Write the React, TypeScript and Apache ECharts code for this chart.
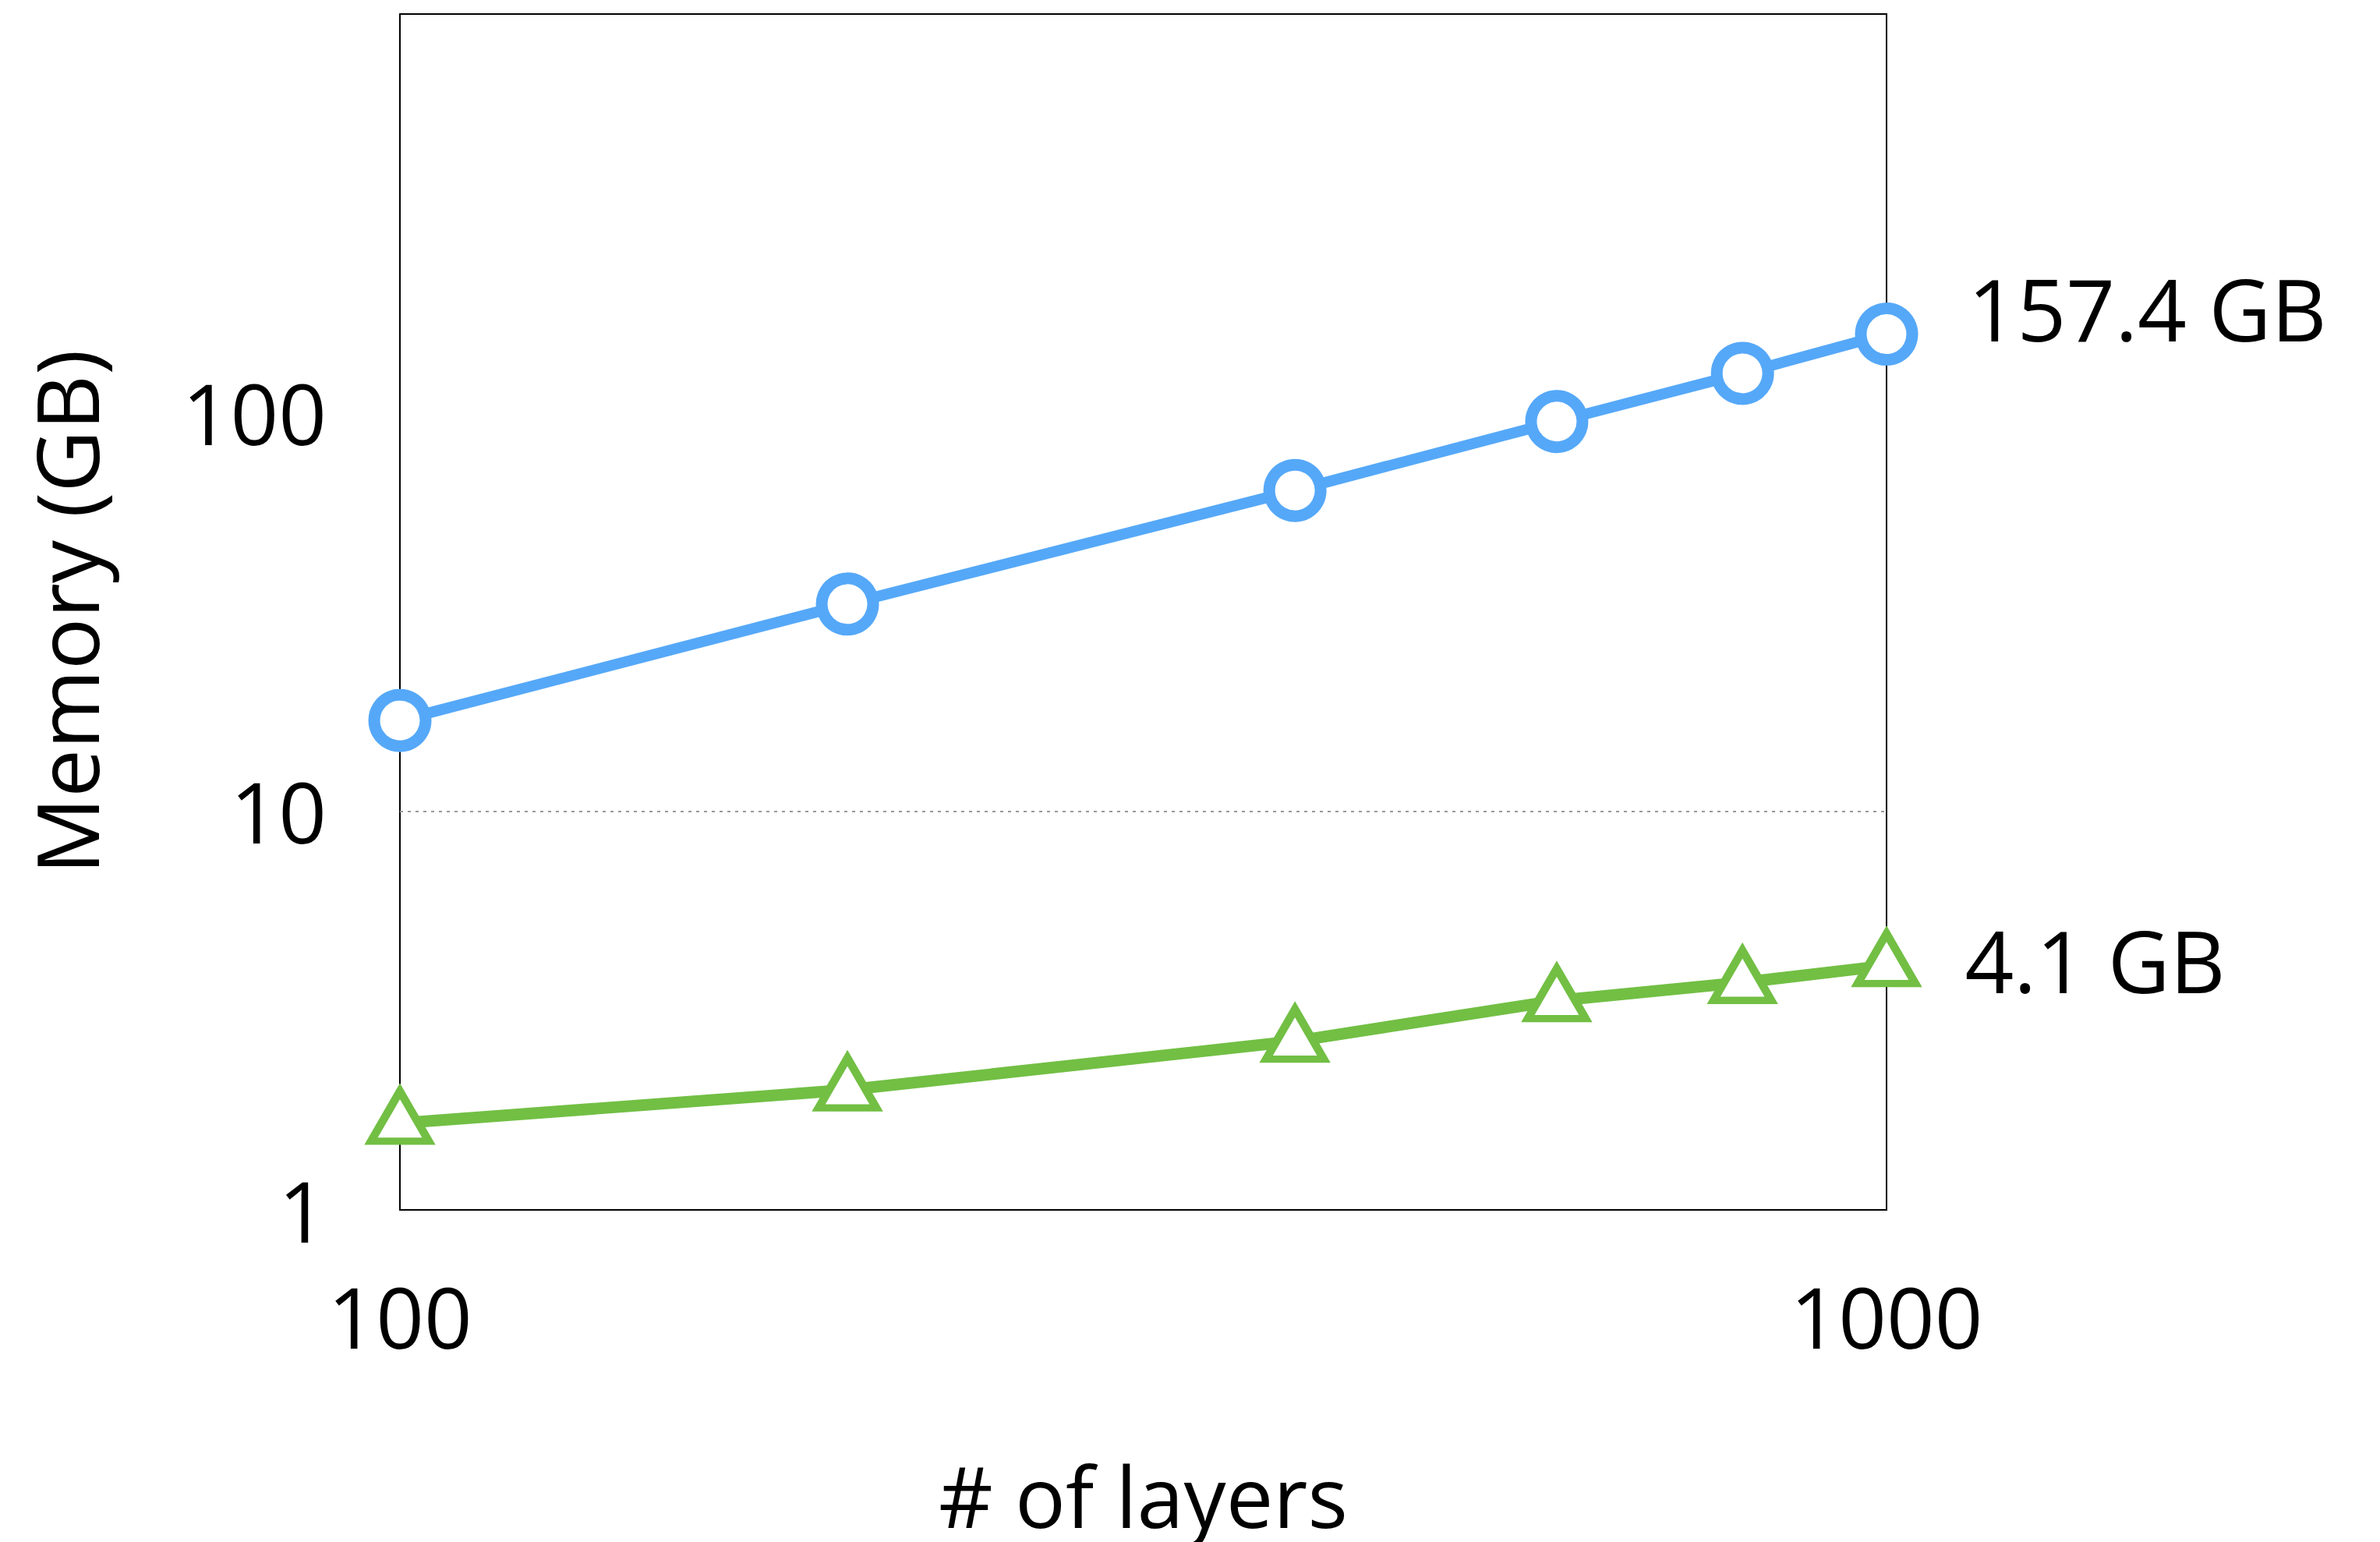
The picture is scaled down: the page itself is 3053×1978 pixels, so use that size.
import React, { useEffect, useRef } from "react";
import * as echarts from "echarts";

const layers = [100, 200, 400, 600, 800, 1000];
const baselineMemory = [16.9, 33.1, 63.8, 95, 125.5, 157.4];
const optimizedMemory = [1.65, 2.0, 2.65, 3.35, 3.72, 4.1];
const yTickLabels = ["1", "10", "100"];
const xTickLabels = ["100", "1000"];
const refLine = 10;

const FONT = "'Open Sans', 'Noto Sans', sans-serif";
const W = 3053;
const H = 1978;

function buildData(values: number[], endOffset: number[], endDist: number) {
  return values.map((v, i) => {
    if (i === values.length - 1) {
      return {
        value: [layers[i], v],
        label: {
          show: true,
          position: "right",
          distance: endDist,
          offset: endOffset,
          formatter: `${v} GB`,
          fontSize: 110,
          fontFamily: FONT,
          color: "#000",
        },
      };
    }
    return { value: [layers[i], v] };
  });
}

export default function App() {
  const ref = useRef<HTMLDivElement>(null);
  useEffect(() => {
    if (!ref.current) return;
    const chart = echarts.init(ref.current, undefined, { renderer: "svg", width: W, height: H });
    chart.setOption({
      animation: false,
      backgroundColor: "#fff",
      grid: {
        left: 513,
        top: 18,
        width: 1907,
        height: 1534,
        show: true,
        borderColor: "#000",
        borderWidth: 2,
        containLabel: false,
      },
      xAxis: {
        type: "log",
        logBase: 10,
        min: 100,
        max: 1000,
        name: "# of layers",
        nameLocation: "middle",
        nameGap: 312,
        nameTextStyle: { fontSize: 108, fontFamily: FONT, color: "#000" },
        axisLine: { show: true, lineStyle: { color: "#000", width: 2 } },
        axisTick: { show: false },
        splitLine: { show: false },
        minorTick: { show: false },
        axisLabel: {
          fontSize: 108,
          fontFamily: FONT,
          color: "#000",
          margin: 82,
          formatter: (v: number) =>
            xTickLabels.includes(String(Math.round(v))) ? String(Math.round(v)) : "",
        },
      },
      yAxis: {
        type: "log",
        logBase: 10,
        min: 1,
        max: 1000,
        name: "Memory (GB)",
        nameLocation: "middle",
        nameGap: 374,
        nameRotate: 90,
        nameTextStyle: { fontSize: 110, fontFamily: FONT, color: "#000" },
        axisLine: { show: true, lineStyle: { color: "#000", width: 2 } },
        axisTick: { show: false },
        splitLine: { show: false },
        axisLabel: {
          fontSize: 108,
          fontFamily: FONT,
          color: "#000",
          margin: 94,
          formatter: (v: number) =>
            yTickLabels.includes(String(Math.round(v))) ? String(Math.round(v)) : "",
        },
      },
      series: [
        {
          type: "line",
          data: buildData(baselineMemory, [0, -34], 64),
          symbol: "circle",
          symbolSize: 66,
          lineStyle: { color: "#55A8F8", width: 14 },
          itemStyle: { color: "#fff", borderColor: "#55A8F8", borderWidth: 15 },
          z: 3,
          markLine: {
            silent: true,
            symbol: "none",
            label: { show: false },
            lineStyle: { color: "#999", type: [4, 6], width: 2 },
            data: [{ yAxis: refLine }],
          },
        },
        {
          type: "line",
          data: buildData(optimizedMemory, [0, 1], 58),
          symbol: "triangle",
          symbolSize: [74, 64],
          symbolOffset: [0, -9],
          lineStyle: { color: "#72BF44", width: 15 },
          itemStyle: { color: "#fff", borderColor: "#72BF44", borderWidth: 10 },
          z: 3,
        },
      ],
    });
    return () => chart.dispose();
  }, []);
  return (
    <div
      ref={ref}
      style={{ position: "absolute", left: 0, top: 0, width: W, height: H, background: "#fff" }}
    />
  );
}
